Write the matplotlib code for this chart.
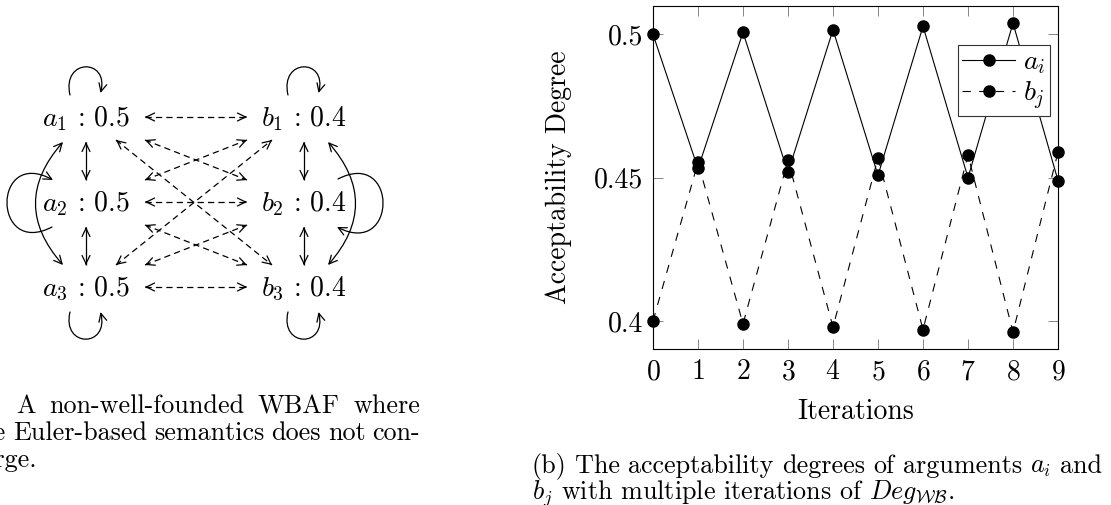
import numpy as np
import matplotlib
matplotlib.use("Agg")
import matplotlib.pyplot as plt
from matplotlib.patches import FancyArrowPatch
from matplotlib.path import Path

plt.rcParams["font.family"] = ["cmr10", "DejaVu Serif"]
plt.rcParams["mathtext.fontset"] = "cm"
plt.rcParams["axes.formatter.use_mathtext"] = True
plt.rcParams["lines.scale_dashes"] = False

# ---- chart data
iterations = list(range(10))
deg_a = [0.5000, 0.4532, 0.5007, 0.4518, 0.5016, 0.4508, 0.5028, 0.4500, 0.5039, 0.4490]
deg_b = [0.4000, 0.4553, 0.3990, 0.4561, 0.3979, 0.4569, 0.3970, 0.4579, 0.3961, 0.4589]
y_ticks = [0.4, 0.45, 0.5]
y_ticklabels = ["0.4", "0.45", "0.5"]

# ---- graph data
a_nodes = ["a_1", "a_2", "a_3"]
a_values = [0.5, 0.5, 0.5]
b_nodes = ["b_1", "b_2", "b_3"]
b_values = [0.4, 0.4, 0.4]
cross_edges = [(i, j) for i in range(3) for j in range(3)]   # a_i <-> b_j
inner_edges = [(0, 1), (1, 2), (0, 2)]                      # inside each group
self_loops = [0, 1, 2]

W, H = 1111, 505
fig = plt.figure(figsize=(W / 100, H / 100), dpi=100)
ax0 = fig.add_axes([0, 0, 1, 1])
ax0.set_xlim(0, W)
ax0.set_ylim(H, 0)
ax0.axis("off")

LW = 0.9
HEAD = "->,head_length=0.45,head_width=0.22"


def head(ax, s, e):
    s, e = np.asarray(s, float), np.asarray(e, float)
    u = (e - s) / np.hypot(*(e - s))
    ax.add_patch(FancyArrowPatch(e - 2 * u, e, arrowstyle=HEAD, mutation_scale=13,
                                 lw=LW, color="k", shrinkA=0, shrinkB=0))


def arrow2(ax, p, q, dashed=False):
    ax.plot([p[0], q[0]], [p[1], q[1]], color="k", lw=LW,
            ls=(0, (4.5, 3)) if dashed else "-", solid_capstyle="butt")
    head(ax, p, q)
    head(ax, q, p)


def loop(ax, verts):
    path = Path(verts, [Path.MOVETO, Path.CURVE4, Path.CURVE4, Path.CURVE4])
    ax.add_patch(FancyArrowPatch(path=path, arrowstyle=HEAD, mutation_scale=13,
                                 lw=LW, color="k"))


col_x = [85.5, 303.5]
row_y = [117, 202, 287]

for k, (names, vals) in enumerate([(a_nodes, a_values), (b_nodes, b_values)]):
    for r, (nm, v) in enumerate(zip(names, vals)):
        ax0.text(col_x[k], row_y[r] + 9, rf"${nm}\,:\,{v}$", fontsize=20,
                 ha="center", va="baseline")

# attacks between the groups
for i, j in cross_edges:
    d = abs(i - j)
    if d == 0:
        p, q = (col_x[0] + 59.5, row_y[i]), (col_x[1] - 56.5, row_y[j])
    else:
        ax_, bx_ = (col_x[0] + 59.5, col_x[1] - 56.5) if d == 1 else (col_x[0] + 30.5, col_x[1] - 31.5)
        if j > i:
            p, q = (ax_, row_y[i] + 23), (bx_, row_y[j] - 22)
        else:
            p, q = (ax_, row_y[i] - 22), (bx_, row_y[j] + 23)
    arrow2(ax0, p, q, dashed=True)

# attacks inside each group
for k, side in enumerate([-1, 1]):
    for i, j in inner_edges:
        if j - i == 1:
            x = col_x[k] + 0.5
            arrow2(ax0, (x, row_y[i] + 25), (x, row_y[j] - 22))
        else:
            x = col_x[k] + (-22.5 if side < 0 else 24.5)
            ax0.add_patch(FancyArrowPatch((x, row_y[i] + 25), (x, row_y[j] - 22),
                                          connectionstyle=f"arc3,rad={0.44 * -side}",
                                          arrowstyle="<->,head_length=0.45,head_width=0.22",
                                          mutation_scale=13, lw=LW, color="k",
                                          shrinkA=0, shrinkB=0))

# self attacks
for r in self_loops:
    if r == 0:
        for cx in col_x:
            loop(ax0, [(cx - 15.5, 95), (cx - 24, 58), (cx + 24, 58), (cx + 15, 93)])
    elif r == 2:
        for cx in col_x:
            loop(ax0, [(cx - 15.5, 312), (cx - 24, 348), (cx + 24, 348), (cx + 15, 312)])
    else:
        loop(ax0, [(52, 227), (-8, 258), (-8, 147), (53, 180)])
        loop(ax0, [(338, 179), (398, 148), (398, 258), (337, 227)])

# ---- line chart
ax = fig.add_axes([653 / W, 1 - 349 / H, (1058 - 653) / W, (349 - 6) / H])
ax.plot(iterations, deg_a, color="k", lw=0.8, marker="o", ms=8, clip_on=False,
        label=r"$a_i$", zorder=3)
ax.plot(iterations, deg_b, color="k", lw=0.8, ls=(0, (6, 6)), marker="o", ms=8,
        clip_on=False, label=r"$b_j$", zorder=3)
ax.set_xlim(0, 9)
ax.set_ylim(0.39023, 0.50988)
ax.set_xticks(iterations)
ax.set_yticks(y_ticks)
ax.set_yticklabels(y_ticklabels)
ax.tick_params(direction="in", length=7, width=0.6, color="0.45", top=True, right=True,
               labelsize=20, pad=7)
for s in ax.spines.values():
    s.set_linewidth(0.8)
ax.set_ylabel("Acceptability Degree", fontsize=20)
ax.yaxis.set_label_coords(-0.2, 0.5)
ax.set_xlabel("Iterations", fontsize=20)
ax.xaxis.set_label_coords(0.5, -0.145)
leg = ax.legend(loc="upper right", bbox_to_anchor=(0.980, 0.886), borderaxespad=0,
                fontsize=20, handlelength=1.9, handletextpad=0.3, borderpad=0.15,
                labelspacing=0.12, fancybox=False, framealpha=1, numpoints=1)
leg.get_frame().set_edgecolor("0.2")
leg.get_frame().set_linewidth(0.8)

# ---- captions
renderer = fig.canvas.get_renderer()
CAP = 18.8


def justify(words, x0, x1, y):
    texts = [ax0.text(0, y, w, fontsize=CAP, ha="left", va="baseline") for w in words]
    widths = [t.get_window_extent(renderer).width for t in texts]
    gap = (x1 - x0 - sum(widths)) / (len(words) - 1)
    x = x0
    for t, w in zip(texts, widths):
        t.set_x(x)
        x += w + gap


last = ax0.text(37, 467, "verge.", fontsize=CAP, ha="right", va="baseline")
x0 = 37 - last.get_window_extent(renderer).width
justify("(a) A non-well-founded WBAF where".split(), x0, 420, 413)
justify("the Euler-based semantics does not con-".split(), x0, 420, 440)

justify(r"(b) The acceptability degrees of arguments $a_i$ and".split(), 532, 1102, 473)
ax0.text(532, 499, r"$b_j$ with multiple iterations of $Deg_{\mathcal{WB}}$.", fontsize=CAP,
         ha="left", va="baseline")

fig.savefig("out.png", dpi=100)
